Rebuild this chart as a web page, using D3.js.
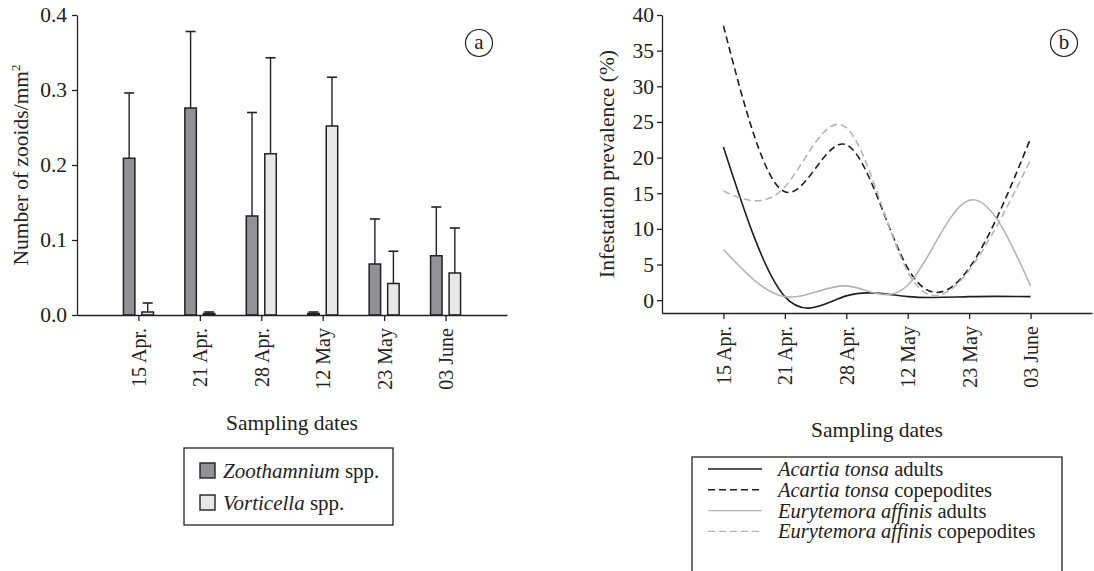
<!DOCTYPE html>
<html>
<head>
<meta charset="utf-8">
<script src="https://cdn.jsdelivr.net/npm/d3@7"></script>
<style>
    body { margin: 0; background: #fff; }
    svg text { font-family: "Liberation Serif", "Times New Roman", serif; fill: #222; }
</style>
</head>
<body>
<svg id="drawing_region" width="1094" height="571"></svg>
<script>
// sampling dates shared by both panels
const dates = ['15 Apr.', '21 Apr.', '28 Apr.', '12 May', '23 May', '03 June'];

// panel a: zooids per mm2 (mean and SD)
const zooValues = [0.209, 0.276, 0.132, 0.002, 0.068, 0.079];
const zooSd = [0.087, 0.102, 0.138, 0.002, 0.060, 0.065];
const vortValues = [0.004, 0.002, 0.215, 0.252, 0.042, 0.056];
const vortSd = [0.012, 0.002, 0.128, 0.065, 0.043, 0.060];
const barTicks = [0, 0.1, 0.2, 0.3, 0.4];

// panel b: infestation prevalence (%)
const acartiaAdults = [21.5, 0.5, 0.6, 0.5, 0.5, 0.5];
const acartiaCopepodites = [38.5, 15.2, 21.8, 4.5, 4.5, 22.7];
const eurytemoraAdults = [7.1, 0.5, 2.0, 2.1, 14.0, 2.0];
const eurytemoraCopepodites = [15.3, 15.9, 24.2, 4.0, 4.2, 19.7];
const lineTicks = [0, 5, 10, 15, 20, 25, 30, 35, 40];

const ink = '#222';

function styleAxis(g, size) {
    g.attr('font-family', null).attr('font-size', size);
    g.selectAll('path, line').attr('stroke', ink).attr('stroke-width', 1.3);
    g.selectAll('text').attr('fill', ink);
}

function rotateDates(g) {
    g.selectAll('text')
        .attr('transform', 'rotate(-90)')
        .attr('text-anchor', 'end')
        .attr('x', -13)
        .attr('y', 0)
        .attr('dy', '0.35em');
}

function panelLabel(svg, cx, cy, letter) {
    svg.append('circle')
        .attr('cx', cx).attr('cy', cy).attr('r', 13.5)
        .attr('fill', 'none').attr('stroke', ink).attr('stroke-width', 1.2);
    svg.append('text')
        .attr('x', cx).attr('y', cy + 6)
        .attr('text-anchor', 'middle')
        .style('font-size', '21px')
        .text(letter);
}

class BarChart {

    constructor(config, series) {
        this.config = {
            parent: config.parent,
            left: config.left,
            top: config.top,
            width: config.width,
            height: config.height
        };
        this.series = series;
        this.init();
    }

    init() {
        let self = this;

        self.svg = d3.select(self.config.parent);
        self.chart = self.svg.append('g')
            .attr('transform', `translate(${self.config.left}, ${self.config.top})`);

        self.xScale = d3.scalePoint()
            .domain(dates)
            .range([0, self.config.width])
            .padding(1);
        self.subScale = d3.scaleBand()
            .domain(self.series.map(s => s.name))
            .range([-15, 15])
            .paddingInner(0.38);
        self.yScale = d3.scaleLinear()
            .domain([0, 0.4])
            .range([self.config.height, 0]);
    }

    update() {
        let self = this;
        const x = self.xScale, sub = self.subScale, y = self.yScale;
        const bw = sub.bandwidth();

        const groups = self.chart.selectAll('.series')
            .data(self.series)
            .enter()
            .append('g')
            .attr('class', 'series');

        const cells = groups.selectAll('g')
            .data(s => s.values.map((v, i) => ({ name: s.name, fill: s.fill, date: dates[i], value: v, sd: s.sd[i] })))
            .enter()
            .append('g')
            .attr('transform', d => `translate(${x(d.date) + sub(d.name)}, 0)`);

        // error bars first, bars drawn over their base
        cells.append('line')
            .attr('x1', bw / 2).attr('x2', bw / 2)
            .attr('y1', d => y(d.value))
            .attr('y2', d => y(d.value + d.sd))
            .attr('stroke', ink).attr('stroke-width', 1.4);
        cells.append('line')
            .attr('x1', bw / 2 - 5).attr('x2', bw / 2 + 5)
            .attr('y1', d => y(d.value + d.sd))
            .attr('y2', d => y(d.value + d.sd))
            .attr('stroke', ink).attr('stroke-width', 1.6);
        cells.append('rect')
            .attr('x', 0)
            .attr('width', bw)
            .attr('y', d => y(d.value))
            .attr('height', d => y(0) - y(d.value))
            .attr('fill', d => d.fill)
            .attr('stroke', ink)
            .attr('stroke-width', 1.5);

        const yAxis = self.chart.append('g')
            .call(d3.axisLeft(y).tickValues(barTicks).tickFormat(d3.format('.1f'))
                .tickSize(5).tickSizeOuter(0).tickPadding(5));
        styleAxis(yAxis, 21.5);

        const xAxis = self.chart.append('g')
            .attr('transform', `translate(0, ${self.config.height})`)
            .call(d3.axisBottom(x).tickSize(6).tickSizeOuter(0));
        styleAxis(xAxis, 20);
        rotateDates(xAxis);

        self.chart.append('text')
            .attr('x', self.config.width / 2)
            .attr('y', 115)
            .attr('transform', `translate(0, ${self.config.height})`)
            .attr('text-anchor', 'middle')
            .style('font-size', '21.5px')
            .text('Sampling dates');

        self.chart.append('text')
            .attr('transform', `translate(${28 - self.config.left}, ${self.config.height / 2}) rotate(-90)`)
            .attr('text-anchor', 'middle')
            .style('font-size', '21.5px')
            .html('Number of zooids/mm<tspan dy="-8" font-size="13">2</tspan>');

        // legend
        const lg = self.svg.append('g');
        lg.append('rect')
            .attr('x', 184).attr('y', 448).attr('width', 209).attr('height', 77)
            .attr('fill', 'none').attr('stroke', ink).attr('stroke-width', 1.3);
        const rows = lg.selectAll('.row')
            .data(self.series)
            .enter()
            .append('g')
            .attr('transform', (d, i) => `translate(200, ${463 + i * 32})`);
        rows.append('rect')
            .attr('width', 15).attr('height', 15)
            .attr('fill', d => d.fill)
            .attr('stroke', ink).attr('stroke-width', 1.4);
        const t = rows.append('text')
            .attr('x', 23).attr('y', 15)
            .style('font-size', '21px');
        t.append('tspan').style('font-style', 'italic').text(d => d.name);
        t.append('tspan').text(' spp.');
    }
}

class LineChart {

    constructor(config, series) {
        this.config = {
            parent: config.parent,
            left: config.left,
            top: config.top,
            width: config.width,
            height: config.height
        };
        this.series = series;
        this.init();
    }

    init() {
        let self = this;

        self.svg = d3.select(self.config.parent);
        self.chart = self.svg.append('g')
            .attr('transform', `translate(${self.config.left}, ${self.config.top})`);

        self.xScale = d3.scalePoint()
            .domain(dates)
            .range([0, self.config.width])
            .padding(1);
        self.yScale = d3.scaleLinear()
            .domain([-1.8, 40])
            .range([self.config.height, 0]);
    }

    update() {
        let self = this;
        const x = self.xScale, y = self.yScale;

        const line = d3.line()
            .x((d, i) => x(dates[i]))
            .y(d => y(d))
            .curve(d3.curveNatural);

        self.chart.selectAll('.curve')
            .data(self.series)
            .enter()
            .append('path')
            .attr('class', 'curve')
            .attr('d', d => line(d.values))
            .attr('fill', 'none')
            .attr('stroke', d => d.color)
            .attr('stroke-width', 1.6)
            .attr('stroke-dasharray', d => d.dash);

        const yAxis = self.chart.append('g')
            .call(d3.axisLeft(y).tickValues(lineTicks).tickFormat(d3.format('d'))
                .tickSize(5).tickSizeOuter(0).tickPadding(3));
        styleAxis(yAxis, 21.5);

        const xAxis = self.chart.append('g')
            .attr('transform', `translate(0, ${self.config.height})`)
            .call(d3.axisBottom(x).tickSize(6).tickSizeOuter(0));
        styleAxis(xAxis, 20);
        rotateDates(xAxis);

        self.chart.append('text')
            .attr('x', self.config.width / 2)
            .attr('y', 124)
            .attr('transform', `translate(0, ${self.config.height})`)
            .attr('text-anchor', 'middle')
            .style('font-size', '21.5px')
            .text('Sampling dates');

        self.chart.append('text')
            .attr('transform', `translate(${614 - self.config.left}, ${self.config.height / 2}) rotate(-90)`)
            .attr('text-anchor', 'middle')
            .style('font-size', '21.5px')
            .text('Infestation prevalence (%)');

        // legend, box runs past the bottom edge as in the figure
        const lg = self.svg.append('g');
        lg.append('rect')
            .attr('x', 692).attr('y', 457).attr('width', 370).attr('height', 130)
            .attr('fill', 'none').attr('stroke', ink).attr('stroke-width', 1.3);
        const rows = lg.selectAll('.row')
            .data(self.series)
            .enter()
            .append('g')
            .attr('transform', (d, i) => `translate(708, ${469 + i * 20.8})`);
        rows.append('line')
            .attr('x1', 0).attr('x2', 54)
            .attr('stroke', d => d.color)
            .attr('stroke-width', 1.4)
            .attr('stroke-dasharray', d => d.dash);
        const t = rows.append('text')
            .attr('x', 70).attr('y', 7)
            .style('font-size', '20.5px');
        t.append('tspan').style('font-style', 'italic').text(d => d.species);
        t.append('tspan').text(d => ' ' + d.stage);
    }
}

const barChart = new BarChart(
    { parent: '#drawing_region', left: 77, top: 15, width: 430, height: 300 },
    [
        { name: 'Zoothamnium', values: zooValues, sd: zooSd, fill: '#929296' },
        { name: 'Vorticella', values: vortValues, sd: vortSd, fill: '#e7e7e8' }
    ]
);
barChart.update();
panelLabel(d3.select('#drawing_region'), 479, 43, 'a');

const lineChart = new LineChart(
    { parent: '#drawing_region', left: 662, top: 15, width: 430, height: 298 },
    [
        { species: 'Acartia tonsa', stage: 'adults', values: acartiaAdults, color: '#1e1e1e', dash: null },
        { species: 'Acartia tonsa', stage: 'copepodites', values: acartiaCopepodites, color: '#1e1e1e', dash: '7,4' },
        { species: 'Eurytemora affinis', stage: 'adults', values: eurytemoraAdults, color: '#b4b4b4', dash: null },
        { species: 'Eurytemora affinis', stage: 'copepodites', values: eurytemoraCopepodites, color: '#b4b4b4', dash: '7,4' }
    ]
);
lineChart.update();
panelLabel(d3.select('#drawing_region'), 1064, 43, 'b');
</script>
</body>
</html>
